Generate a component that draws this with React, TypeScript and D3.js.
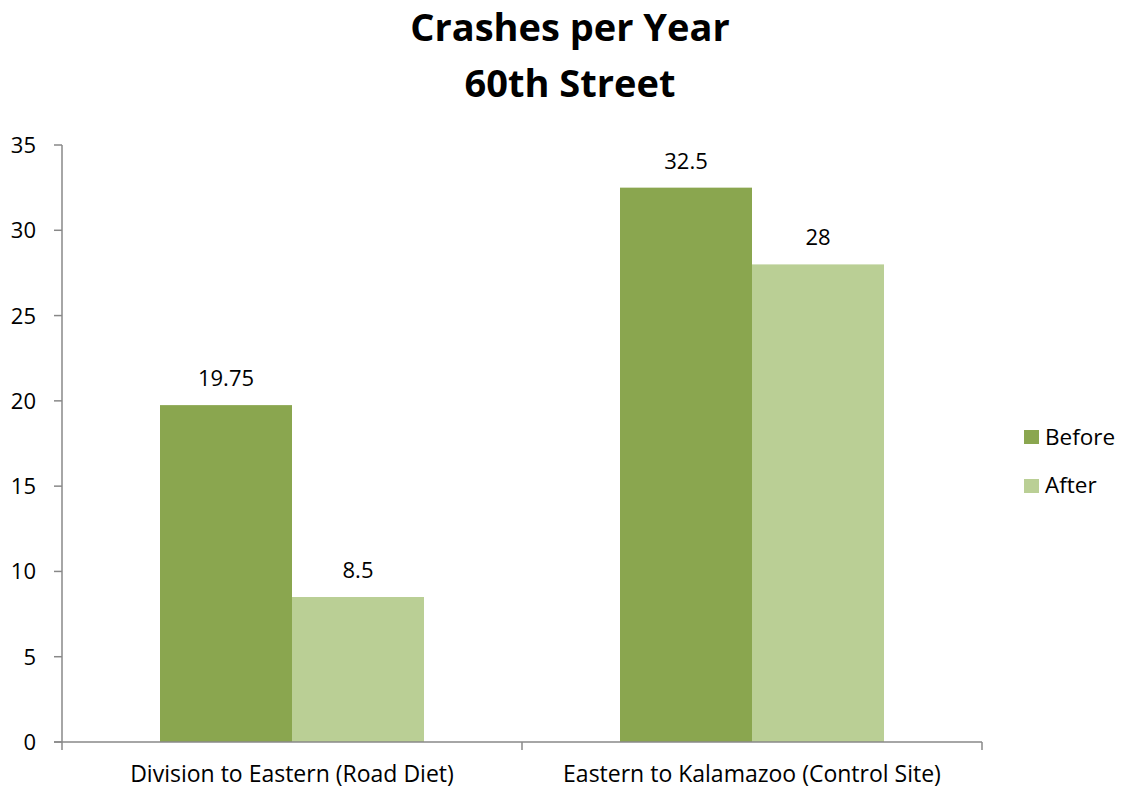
import React from "react";
import * as d3 from "d3";

const categories = ["Division to Eastern (Road Diet)", "Eastern to Kalamazoo (Control Site)"];
const seriesNames = ["Before", "After"];
const beforeValues = [19.75, 32.5];
const afterValues = [8.5, 28];
const valueLabels = [["19.75", "8.5"], ["32.5", "28"]];
const yTicks = [0, 5, 10, 15, 20, 25, 30, 35];
const colors = ["#8aa64f", "#bacf95"];
const titleLines = ["Crashes per Year", "60th Street"];

const W = 1122;
const H = 790;
const M = { left: 62, right: 982, top: 145, bottom: 742 };
const FONT = "'Open Sans', Lato, sans-serif";

export default function App() {
  const x = d3.scaleBand<string>().domain(categories).range([M.left, M.right]).padding(0);
  const y = d3.scaleLinear().domain([0, 35]).range([M.bottom, M.top]);
  const groupW = x.bandwidth();
  const gap = 98;
  const inner = d3.scaleBand<string>().domain(seriesNames).range([gap, groupW - gap]).padding(0);
  const series = [beforeValues, afterValues];
  const boundaries = [M.left, ...categories.map((c) => (x(c) as number) + groupW)];

  return (
    <svg width={W} height={H} style={{ position: "absolute", left: 0, top: 0, background: "#fff" }} fontFamily={FONT}>
      {titleLines.map((t, i) => (
        <text key={t} x={570} y={41 + i * 56} textAnchor="middle" fontSize={38} fontWeight="bold" fill="#000">
          {t}
        </text>
      ))}
      {categories.map((c, ci) =>
        series.map((vals, si) => {
          const bx = (x(c) as number) + (inner(seriesNames[si]) as number);
          const bw = inner.bandwidth();
          const v = vals[ci];
          return (
            <g key={c + si}>
              <rect x={bx} y={y(v)} width={bw} height={M.bottom - y(v)} fill={colors[si]} />
              <text x={bx + bw / 2} y={y(v) - 19} textAnchor="middle" fontSize={22} fill="#000">
                {valueLabels[ci][si]}
              </text>
            </g>
          );
        })
      )}
      <line x1={M.left} x2={M.left} y1={M.top} y2={M.bottom} stroke="#888" strokeWidth={1.5} />
      {yTicks.map((t) => (
        <g key={t}>
          <line x1={M.left - 8} x2={M.left} y1={y(t)} y2={y(t)} stroke="#888" strokeWidth={1.5} />
          <text x={36} y={y(t) + 8} textAnchor="end" fontSize={22} fill="#000">
            {t}
          </text>
        </g>
      ))}
      <line x1={M.left - 8} x2={M.right} y1={M.bottom} y2={M.bottom} stroke="#888" strokeWidth={1.5} />
      {boundaries.map((b, i) => (
        <line key={i} x1={b} x2={b} y1={M.bottom} y2={M.bottom + 8} stroke="#888" strokeWidth={1.5} />
      ))}
      {categories.map((c) => (
        <text key={c} x={(x(c) as number) + groupW / 2} y={782} textAnchor="middle" fontSize={23} fill="#000">
          {c}
        </text>
      ))}
      {seriesNames.map((s, i) => (
        <g key={s}>
          <rect x={1024} y={430 + i * 49} width={15} height={14} fill={colors[i]} />
          <text x={1045} y={445 + i * 48} fontSize={22.5} fill="#000">
            {s}
          </text>
        </g>
      ))}
    </svg>
  );
}
